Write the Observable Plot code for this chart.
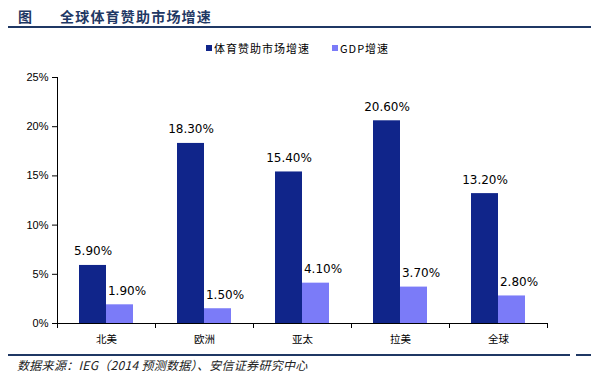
<!DOCTYPE html>
<html>
<head>
<meta charset="utf-8">
<script src="https://cdn.jsdelivr.net/npm/d3@7"></script>
<script src="https://cdn.jsdelivr.net/npm/@observablehq/plot@0.6"></script>
<style>
  html, body { margin: 0; padding: 0; background: #fff; }
  #wrap { position: relative; width: 591px; height: 374px; overflow: hidden; font-family: "Noto Sans CJK SC", sans-serif; }
  .abs { position: absolute; white-space: nowrap; }
  #fig { left: 18px; top: 7px; font-size: 14px; font-weight: bold; color: #1F3864; line-height: 18px; }
  #title { left: 60px; top: 7px; font-size: 14px; font-weight: bold; color: #1F3864; letter-spacing: 1.2px; line-height: 18px; }
  #topline { left: 8px; top: 26px; width: 583px; height: 2px; background: #1F3864; }
  #legend { left: 206px; top: 40px; font-size: 11px; line-height: 16px; color: #000; display: flex; align-items: center; }
  .sw { display: inline-block; width: 6px; height: 6px; margin-right: 2px; }
  .lt { letter-spacing: 1px; margin-right: 22px; }
  #botline1 { left: 8px; top: 354px; width: 562px; height: 2px; background: #1F3864; }
  #botline2 { left: 576px; top: 354px; width: 15px; height: 2px; background: #1F3864; }
  #source { left: 17px; top: 357px; font-size: 12px; letter-spacing: 0.3px; font-style: italic; color: #222; line-height: 16px; }
  #chart { left: 0; top: 0; }
</style>
</head>
<body>
<div id="wrap">
  <div id="chart" class="abs"></div>
  <div id="fig" class="abs">图</div>
  <div id="title" class="abs">全球体育赞助市场增速</div>
  <div id="topline" class="abs"></div>
  <div id="legend" class="abs"></div>
  <div id="botline1" class="abs"></div>
  <div id="botline2" class="abs"></div>
  <div id="source" class="abs">数据来源：IEG（2014 预测数据）、安信证券研究中心</div>
</div>
<script>
const regions = ["北美", "欧洲", "亚太", "拉美", "全球"];
const series = ["体育赞助市场增速", "GDP增速"];
const sponsorship = [5.9, 18.3, 15.4, 20.6, 13.2];
const gdp = [1.9, 1.5, 4.1, 3.7, 2.8];
const yTicks = [0, 5, 10, 15, 20, 25];
const colors = ["#10258A", "#7B7BF8"];

const data = [];
regions.forEach((r, i) => {
  data.push({region: r, series: series[0], value: sponsorship[i]});
  data.push({region: r, series: series[1], value: gdp[i]});
});

// legend
const legend = document.getElementById("legend");
series.forEach((s, i) => {
  const sw = document.createElement("span");
  sw.className = "sw";
  sw.style.background = colors[i];
  const t = document.createElement("span");
  t.className = "lt";
  t.textContent = s;
  legend.appendChild(sw);
  legend.appendChild(t);
});

const labelFont = "DejaVu Sans, Verdana, sans-serif";
const plot = Plot.plot({
  width: 591,
  height: 374,
  marginLeft: 56,
  marginRight: 43,
  marginTop: 77,
  marginBottom: 51,
  style: {background: "transparent", overflow: "visible"},
  fx: {domain: regions, padding: 0},
  x: {domain: series, paddingInner: 0, paddingOuter: 0.757, axis: null},
  y: {domain: [0, 25]},
  color: {domain: series, range: colors},
  marks: [
    Plot.barY(data, {fx: "region", x: "series", y: "value", fill: "series"}),
    Plot.text(data.filter(d => d.series === series[0]), {
      fx: "region", x: "series", y: "value",
      text: d => d.value.toFixed(2) + "%",
      lineAnchor: "bottom", dy: -10,
      fontSize: 12, fontFamily: labelFont, fill: "#000"
    }),
    Plot.text(data.filter(d => d.series === series[1]), {
      fx: "region", x: "series", y: "value",
      text: d => d.value.toFixed(2) + "%",
      lineAnchor: "bottom", dy: -10, dx: 7,
      fontSize: 12, fontFamily: labelFont, fill: "#000"
    }),
    Plot.ruleY([0], {stroke: "#000", strokeWidth: 1}),
    Plot.axisY({
      ticks: yTicks, tickFormat: d => d + "%", tickSize: 5, tickPadding: 4,
      fontSize: 11, fontFamily: "Liberation Sans, Arial, sans-serif", stroke: "#000", color: "#000",
      label: null
    }),
    Plot.axisFx({
      anchor: "bottom", tickSize: 0, tickPadding: 12, label: null,
      fontSize: 10.5, fontFamily: "Noto Sans CJK SC, sans-serif", color: "#000",
      style: {letterSpacing: "1px"}
    })
  ]
});

document.getElementById("chart").appendChild(plot);

// y-axis line and category boundary ticks derived from Plot's scales
const fx = plot.scale("fx");
const y = plot.scale("y");
const svg = d3.select(plot);
const y0 = y.apply(0);
const yTop = y.apply(25);
const left = fx.apply(regions[0]);
const bounds = regions.map(r => fx.apply(r)).concat([fx.apply(regions[regions.length - 1]) + fx.bandwidth]);
const g = svg.append("g").attr("stroke", "#000").attr("stroke-width", 1);
g.append("line").attr("x1", left + 0.5).attr("x2", left + 0.5).attr("y1", yTop).attr("y2", y0);
bounds.forEach(b => {
  g.append("line").attr("x1", b + 0.5).attr("x2", b + 0.5).attr("y1", y0).attr("y2", y0 + 5);
});
</script>
</body>
</html>
